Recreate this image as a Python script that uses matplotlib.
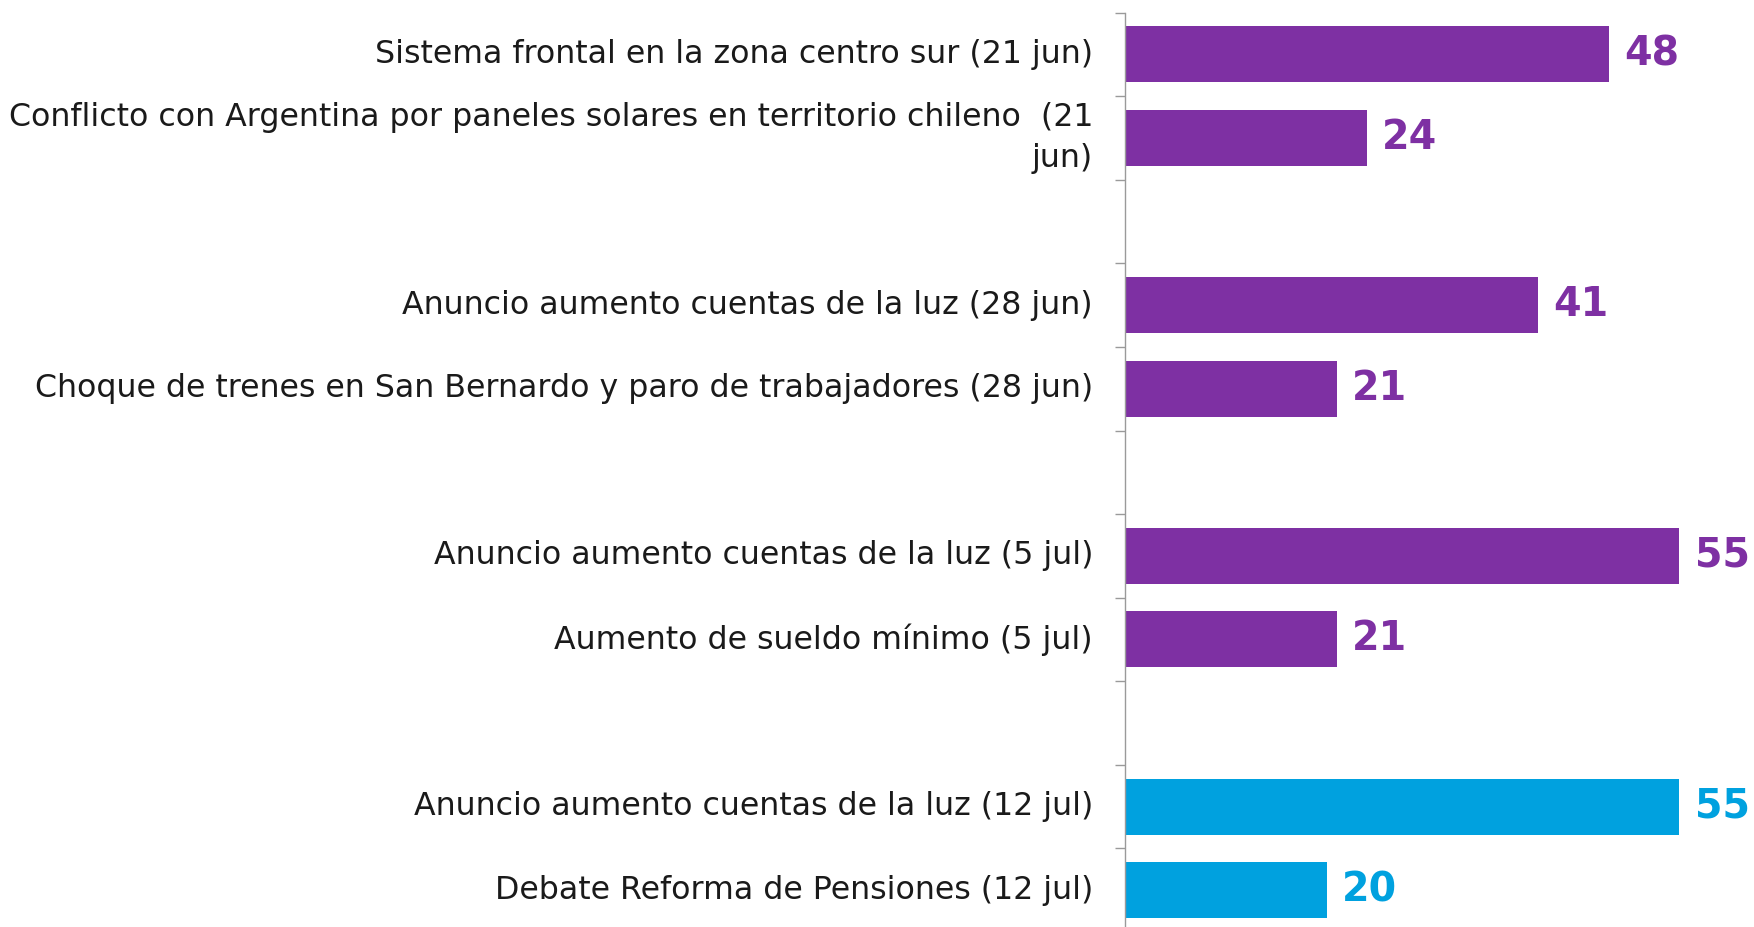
import matplotlib
matplotlib.use("Agg")
import matplotlib.pyplot as plt
from matplotlib.ticker import FixedLocator, NullFormatter, FixedFormatter

# ---- data ----
categories = [
    "Sistema frontal en la zona centro sur (21 jun)",
    "Conflicto con Argentina por paneles solares en territorio chileno  (21\njun)",
    "",
    "Anuncio aumento cuentas de la luz (28 jun)",
    "Choque de trenes en San Bernardo y paro de trabajadores (28 jun)",
    "",
    "Anuncio aumento cuentas de la luz (5 jul)",
    "Aumento de sueldo mínimo (5 jul)",
    "",
    "Anuncio aumento cuentas de la luz (12 jul)",
    "Debate Reforma de Pensiones (12 jul)",
]
values = [48, 24, None, 41, 21, None, 55, 21, None, 55, 20]
groups = ["p", "p", None, "p", "p", None, "p", "p", None, "b", "b"]

PURPLE = "#7E30A3"
BLUE = "#00A1DF"
color_map = {"p": PURPLE, "b": BLUE}

W, H, DPI = 1754, 927, 100
fig = plt.figure(figsize=(W / DPI, H / DPI), dpi=DPI)
ax_left = 1125 / W
ax_top = 1 - 12.7 / H
ax_bottom = 1 - 931.9 / H
ax = fig.add_axes([ax_left, ax_bottom, 1 - ax_left, ax_top - ax_bottom])

n = len(categories)
for i, (v, g) in enumerate(zip(values, groups)):
    if v is None:
        continue
    c = color_map[g]
    ax.barh(i, v, height=0.67, color=c, edgecolor="none")
    ax.annotate(str(v), xy=(v, i), xytext=(11, 0), textcoords="offset points",
                ha="left", va="center", fontsize=28.5, fontweight="bold",
                color=c, family="DejaVu Sans")

ax.set_ylim(n - 0.5, -0.5)
ax.set_xlim(0, (W - 1125) / 10.08)

for s in ["top", "right", "bottom"]:
    ax.spines[s].set_visible(False)
ax.spines["left"].set_color("#9a9a9a")
ax.spines["left"].set_linewidth(1.0)
ax.xaxis.set_visible(False)

# boundaries (major ticks) and labels (minor ticks)
bounds = [k - 0.5 for k in range(n + 1)]
ax.yaxis.set_major_locator(FixedLocator(bounds))
ax.yaxis.set_major_formatter(NullFormatter())
ax.yaxis.set_minor_locator(FixedLocator(list(range(n))))
ax.yaxis.set_minor_formatter(FixedFormatter(categories))
ax.tick_params(axis="y", which="major", length=7.2, width=1.0, color="#9a9a9a", direction="out")
ax.tick_params(axis="y", which="minor", length=0, pad=23, labelsize=22.8, labelcolor="#1a1a1a")
for lab in ax.yaxis.get_minorticklabels():
    lab.set_family("DejaVu Sans")
    lab.set_horizontalalignment("right")
    lab.set_verticalalignment("center")
    lab.set_multialignment("right")
    lab.set_linespacing(1.45)

fig.savefig("out.png", dpi=DPI)
